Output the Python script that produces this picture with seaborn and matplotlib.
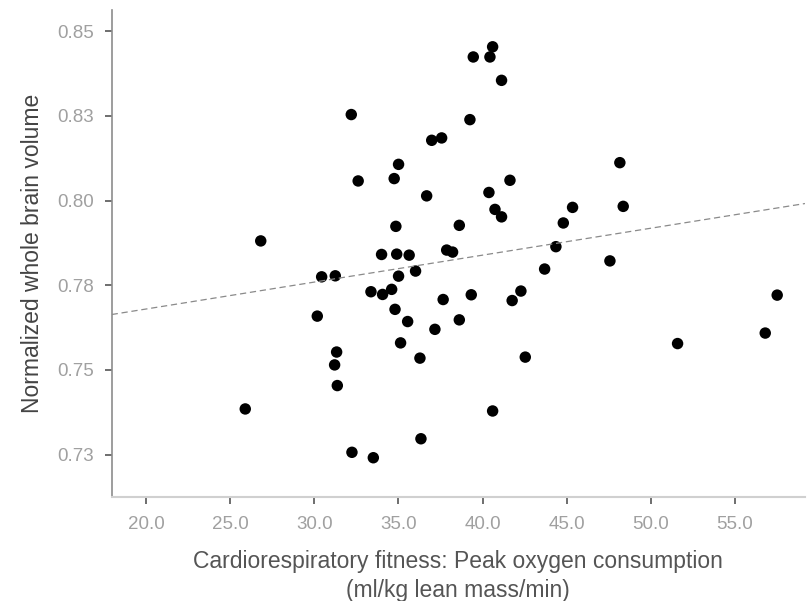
import matplotlib
matplotlib.use("Agg")
import matplotlib.pyplot as plt
import seaborn as sns
import pandas as pd

# Peak oxygen consumption (ml/kg lean mass/min)
fitness = [40.60, 40.44, 39.45, 41.13, 39.25, 32.20, 36.98, 37.57, 35.01, 32.61,
           34.75, 36.68, 34.85, 38.62, 48.16, 41.63, 40.38, 40.74, 41.13, 45.35,
           48.36, 44.80, 44.36, 26.82, 34.00, 34.90, 35.64, 37.87, 38.22, 30.44,
           31.25, 35.01, 36.02, 33.37, 34.06, 34.60, 37.66, 34.80, 30.18, 35.55,
           37.17, 38.62, 35.13, 31.33, 31.21, 36.28, 31.37, 25.90, 36.34, 32.24,
           33.51, 47.57, 43.69, 39.33, 42.28, 41.76, 42.54, 40.60, 51.59, 56.80,
           57.51]
# Normalized whole brain volume
brain_volume = [0.8454, 0.8424, 0.8424, 0.8355, 0.8239, 0.8254, 0.8178, 0.8185, 0.8107, 0.8058,
                0.8065, 0.8014, 0.7924, 0.7927, 0.8112, 0.8060, 0.8024, 0.7974, 0.7952, 0.7980,
                0.7983, 0.7934, 0.7864, 0.7881, 0.7841, 0.7842, 0.7839, 0.7854, 0.7848, 0.7775,
                0.7778, 0.7777, 0.7792, 0.7731, 0.7723, 0.7738, 0.7708, 0.7679, 0.7659, 0.7643,
                0.7620, 0.7648, 0.7580, 0.7553, 0.7515, 0.7535, 0.7454, 0.7385, 0.7297, 0.7257,
                0.7241, 0.7822, 0.7798, 0.7722, 0.7733, 0.7705, 0.7538, 0.7379, 0.7578, 0.7609,
                0.7721]

x_ticks = [20.0, 25.0, 30.0, 35.0, 40.0, 45.0, 50.0, 55.0]
x_tick_labels = ["20.0", "25.0", "30.0", "35.0", "40.0", "45.0", "50.0", "55.0"]
y_ticks = [0.725, 0.750, 0.775, 0.800, 0.825, 0.850]
y_tick_labels = ["0.73", "0.75", "0.78", "0.80", "0.83", "0.85"]

df = pd.DataFrame({"fitness": fitness, "volume": brain_volume})

sns.set_theme(style="ticks")
plt.rcParams["font.family"] = ["Liberation Sans", "DejaVu Sans"]

fig = plt.figure(figsize=(8.09, 6.01), dpi=100)
ax = fig.add_axes([0.138, 0.173, 0.857, 0.810])

# limits first so the fitted line spans the full axis width
ax.set_xlim(17.96, 59.16)
ax.set_ylim(0.7125, 0.8562)

sns.regplot(data=df, x="fitness", y="volume", ax=ax, ci=None, truncate=False,
            scatter_kws=dict(s=68, color="black", edgecolor="none", alpha=1),
            line_kws=dict(color="#8a8a8a", linewidth=0.9, linestyle=(0, (5, 3))))

ax.set_xlim(17.96, 59.16)
ax.set_ylim(0.7125, 0.8562)

ax.set_xticks(x_ticks)
ax.set_xticklabels(x_tick_labels)
ax.set_yticks(y_ticks)
ax.set_yticklabels(y_tick_labels)

for side in ["top", "right"]:
    ax.spines[side].set_visible(False)
ax.spines["left"].set_color("#8c8c8c")
ax.spines["left"].set_linewidth(1.2)
ax.spines["bottom"].set_color("#d0d0d0")
ax.spines["bottom"].set_linewidth(1.5)

ax.tick_params(axis="both", direction="out", length=5, width=1.2, color="#555555",
               labelsize=13.5, labelcolor="#a0a0a0")
ax.tick_params(axis="x", pad=9)
ax.tick_params(axis="y", pad=8)

ax.set_xlabel("Cardiorespiratory fitness: Peak oxygen consumption\n(ml/kg lean mass/min)",
              fontsize=16.5, color="#555555", labelpad=12, linespacing=1.3)
ax.set_ylabel("Normalized whole brain volume", fontsize=16.5, color="#444444", labelpad=9)

fig.savefig("out.png", dpi=100)
